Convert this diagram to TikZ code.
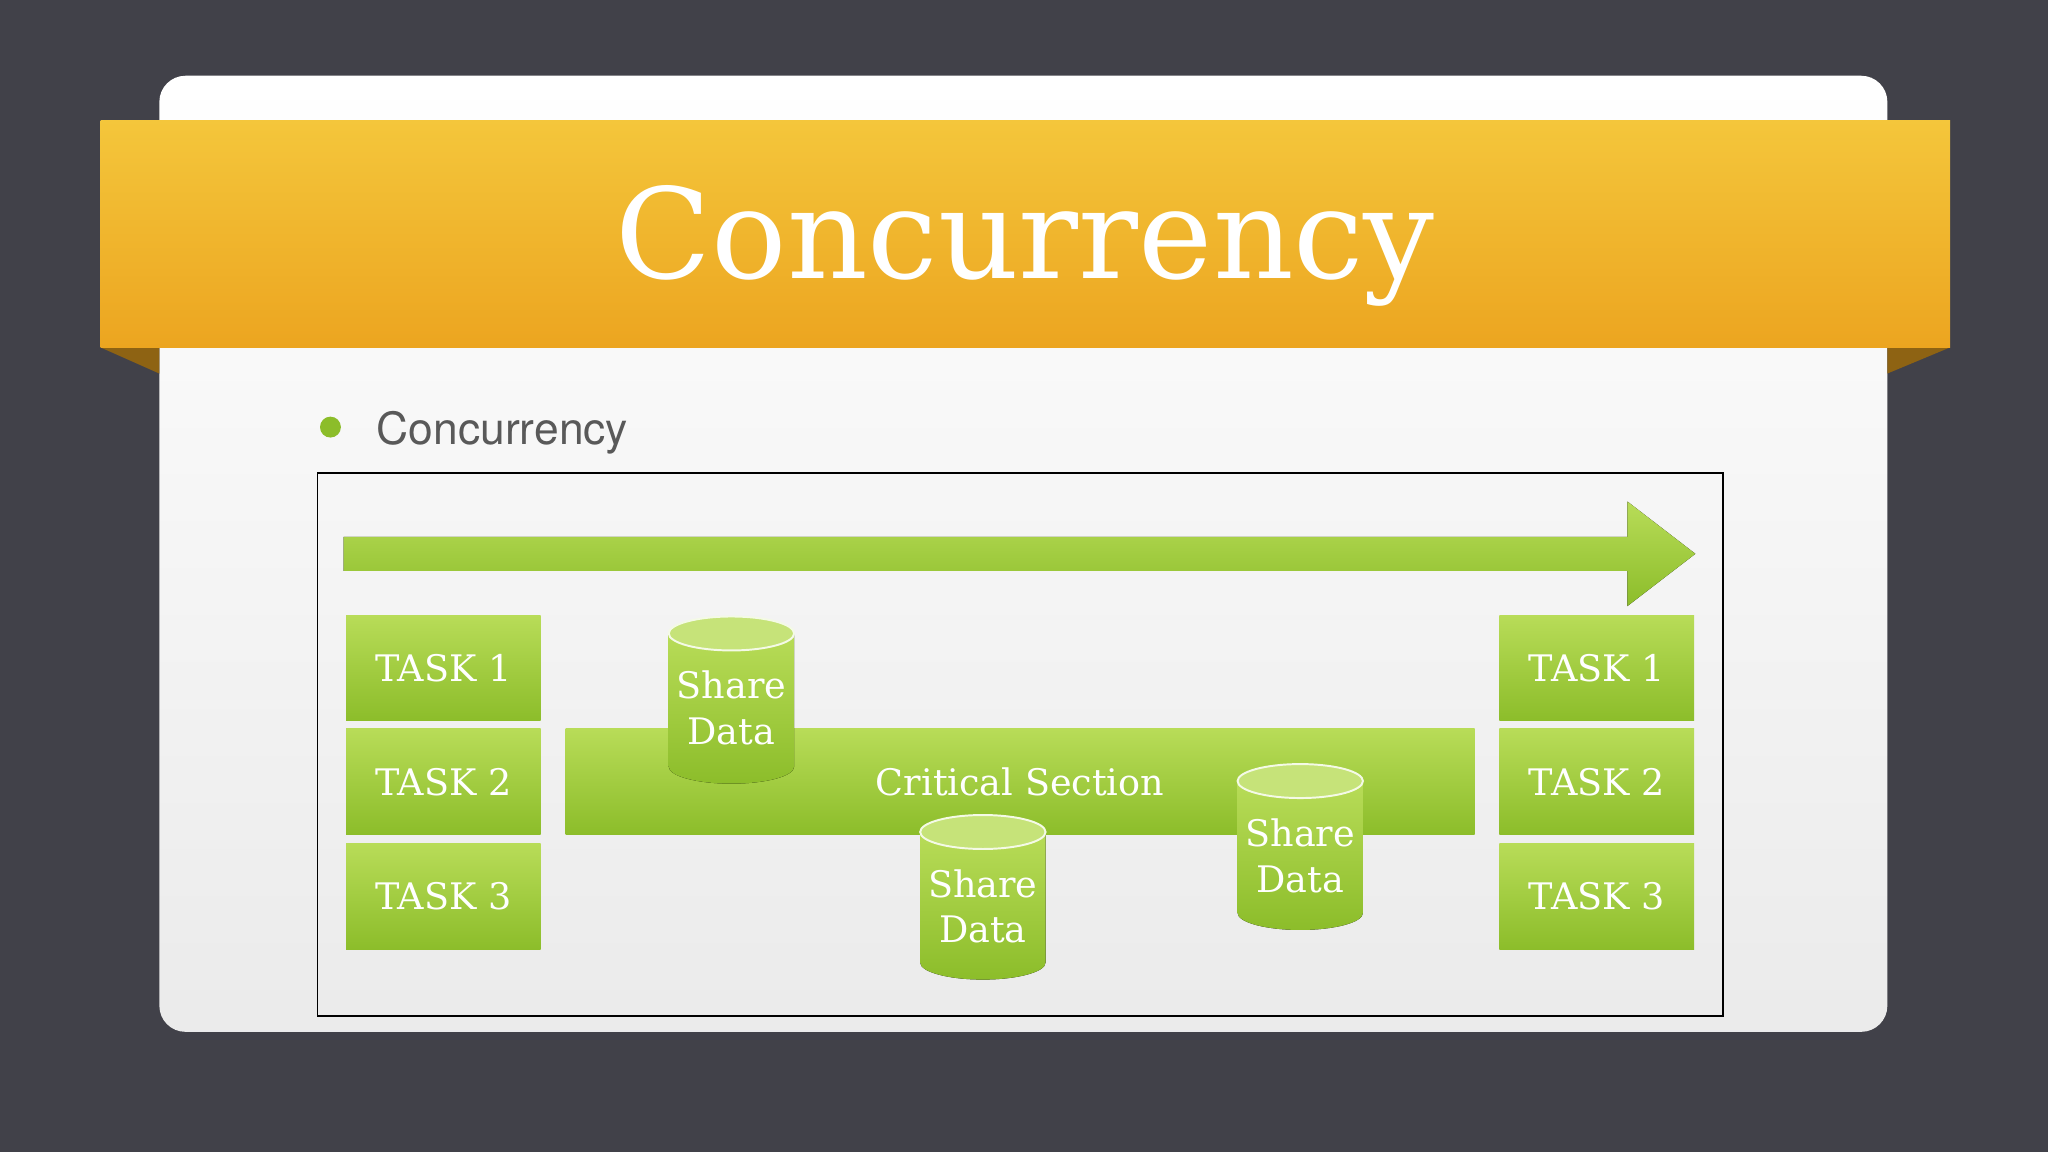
\documentclass[tikz,border=0pt]{standalone}
\usepackage{fontspec}
\setmainfont{DejaVu Serif}
\newfontfamily\sans{TeX Gyre Heros}
\definecolor{bg}{HTML}{414149}
\definecolor{gtop}{HTML}{B8DC58}
\definecolor{gbot}{HTML}{8CBD2A}
\definecolor{otop}{HTML}{F4C63B}
\definecolor{obot}{HTML}{ECA520}
\tikzset{
  task/.style={minimum width=149pt,minimum height=81pt,top color=gtop,bottom color=gbot,draw=none,text=white,font=\fontsize{28}{30}\selectfont,inner sep=0pt},
  gtext/.style={text=white,font=\fontsize{28}{35}\selectfont,align=center,inner sep=0pt},
}
\newcommand{\mycyl}[4]{% name, cx, top, bottom
  \fill[top color=gtop,bottom color=gbot] (#2-48,#3) -- (#2-48,#4) arc[start angle=180,end angle=360,x radius=48,y radius=-13] -- (#2+48,#3) -- cycle;
  \fill[gtop!80!white,draw=white!85!gtop,line width=1.5pt] (#2,#3) ellipse[x radius=48,y radius=13];
}
\begin{document}
\begin{tikzpicture}[x=1pt,y=-1pt]
\fill[bg] (0,0) rectangle (1568,882);
\useasboundingbox (0,0) rectangle (1568,882);
\shade[top color=white,bottom color=white!92!black,rounded corners=20pt] (122,58) rectangle (1445,790);
\fill[obot!60!black] (77,266) -- (122,266) -- (122,286) -- cycle;
\fill[obot!60!black] (1493,266) -- (1445,266) -- (1445,286) -- cycle;
\shade[top color=otop,bottom color=obot] (77,92) rectangle (1493,266);
\node[text=white,font=\fontsize{96}{100}\selectfont] (title) at (785,188) {Concurrency};
\fill[gbot] (253,327) circle (8);
\node[anchor=west,text=black!65,font=\sans\fontsize{34}{36}\selectfont] (bullet) at (285,331) {Concurrency};
\draw[black,line width=1.2pt] (243,362) rectangle (1319,778);
\fill[top color=gtop,bottom color=gbot] (263,411) -- (1246,411) -- (1246,384) -- (1298,424) -- (1246,464) -- (1246,437) -- (263,437) -- cycle;
\node[task] (l1) at (339.5,511.5) {TASK 1};
\node[task] (l2) at (339.5,598.5) {TASK 2};
\node[task] (l3) at (339.5,686.5) {TASK 3};
\node[task] (r1) at (1222.5,511.5) {TASK 1};
\node[task] (r2) at (1222.5,598.5) {TASK 2};
\node[task] (r3) at (1222.5,686.5) {TASK 3};
\node[task,minimum width=696pt] (cs) at (781,598.5) {Critical Section};
\mycyl{c1}{560}{485}{587}
\node[gtext] (d1) at (560,542) {Share\\Data};
\mycyl{c2}{752.5}{637}{737}
\node[gtext] (d2) at (752.5,694) {Share\\Data};
\mycyl{c3}{995.5}{598}{699}
\node[gtext] (d3) at (995.5,655) {Share\\Data};
\end{tikzpicture}
\end{document}
